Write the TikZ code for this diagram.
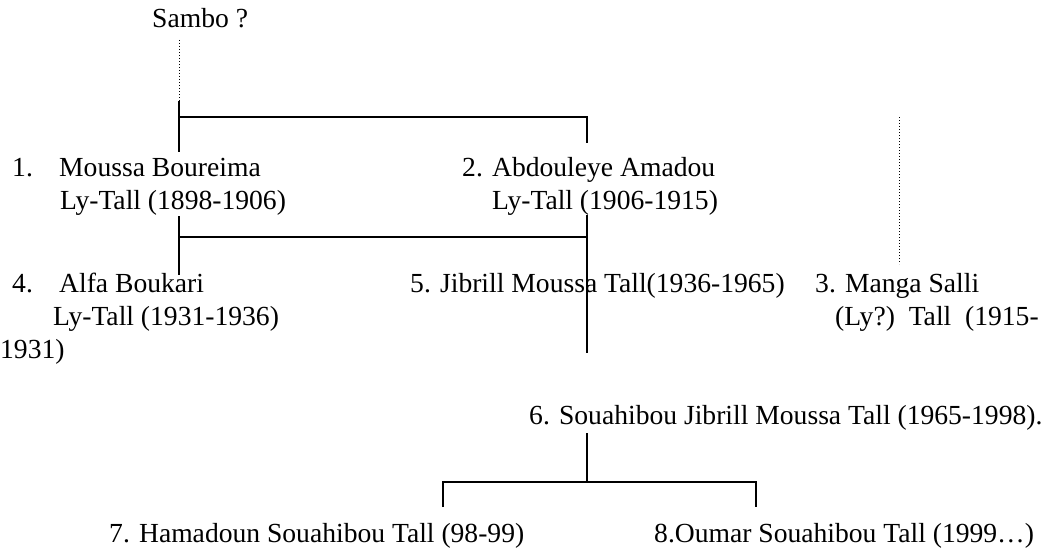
\documentclass[tikz,border=0pt]{standalone}
\usepackage{fontspec}
\setmainfont{Liberation Serif}
\usepackage{tikz}
\usetikzlibrary{positioning,calc}

\tikzset{
  nom/.style={anchor=base west, inner sep=0, font=\fontsize{27.6}{33}\selectfont},
  lien/.style={line width=1.6pt},
  pointille/.style={line width=1pt, dotted},
}

\begin{document}
\begin{tikzpicture}[x=1pt,y=-1pt]
  \useasboundingbox (0,0) rectangle (1047,551);
  % ancetre
  \node[nom] (sambo) at (152,28) {Sambo ?};
  \coordinate (s0) at (179,40);
  \coordinate (s1) at (179,101);
  \draw[pointille] (s0) -- (s1);
  % premiere generation
  \node[nom] (n1) at (12,176) {\makebox[47pt][l]{1.}Moussa Boureima};
  \node[nom] (n1b) at (60,209) {Ly-Tall (1898-1906)};
  \node[nom] (n2) at (462,176) {2. Abdouleye Amadou};
  \node[nom] (n2b) at (492,209) {Ly-Tall (1906-1915)};
  \coordinate (g1) at (179,152);
  \coordinate (h1a) at (179,117);
  \coordinate (h1b) at (587,117);
  \coordinate (d1) at (587,143);
  \draw[lien] (s1) -- (g1);
  \draw[lien] (h1a) -- (h1b) -- (d1);
  % deuxieme generation
  \coordinate (g2a) at (179,216);
  \coordinate (g2b) at (179,275);
  \coordinate (h2a) at (179,237);
  \coordinate (h2b) at (587,237);
  \coordinate (d2a) at (587,215);
  \coordinate (d2b) at (587,353);
  \draw[lien] (g2a) -- (g2b);
  \draw[lien] (h2a) -- (h2b);
  \draw[lien] (d2a) -- (d2b);
  \node[nom] (n4) at (12,292) {\makebox[47pt][l]{4.}Alfa Boukari};
  \node[nom] (n4b) at (53,325) {Ly-Tall (1931-1936)};
  \node[nom] (n4c) at (0,358) {1931)};
  \node[nom] (n5) at (410,292) {5. Jibrill Moussa Tall(1936-1965)};
  \node[nom] (n3) at (815,292) {3. Manga Salli};
  \node[nom] (n3b) at (835,325) {(Ly?)\ \ Tall\ \ (1915-};
  \coordinate (m0) at (899,117);
  \coordinate (m1) at (899,264);
  \draw[pointille] (m0) -- (m1);
  % troisieme generation
  \node[nom] (n6) at (529,424) {6. Souahibou Jibrill Moussa Tall (1965-1998).};
  \coordinate (v6a) at (587,433);
  \coordinate (h3) at (587,482);
  \coordinate (h3a) at (443,482);
  \coordinate (h3b) at (756,482);
  \coordinate (f7) at (443,507);
  \coordinate (f8) at (756,507);
  \draw[lien] (v6a) -- (h3);
  \draw[lien] (f7) -- (h3a) -- (h3b) -- (f8);
  \node[nom] (n7) at (109,542) {7. Hamadoun Souahibou Tall (98-99)};
  \node[nom] (n8) at (654,542) {8.Oumar Souahibou Tall (1999\dots)};
\end{tikzpicture}
\end{document}
